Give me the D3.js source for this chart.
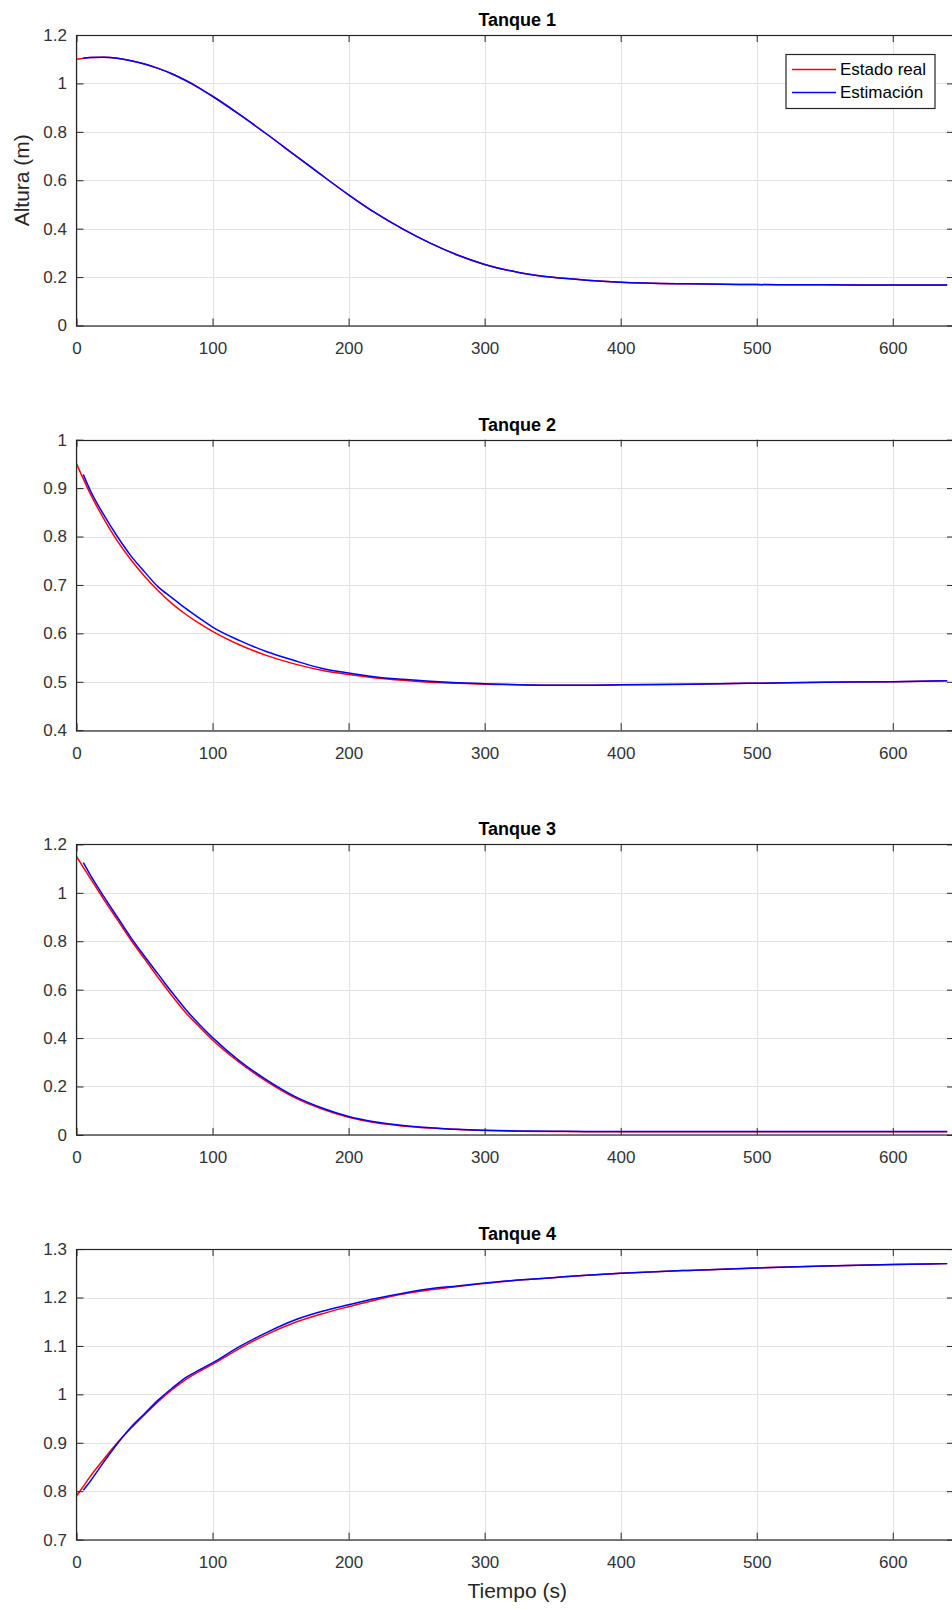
<!DOCTYPE html>
<html>
<head>
<meta charset="utf-8">
<script src="https://cdn.jsdelivr.net/npm/d3@7"></script>
<style>
  body { margin: 0; background: #fff; }
  text { font-family: "Liberation Sans", Arial, Helvetica, sans-serif; }
</style>
</head>
<body>
<div class="chart"></div>
<script>
// tiempo de muestreo (s)
const tiempo = [0, 5, 10, 20, 30, 40, 50, 60, 70, 80, 90, 100, 120, 140, 160, 180, 200,
  220, 240, 260, 280, 300, 325, 350, 375, 400, 450, 500, 550, 600, 640];

// Tanque 1
const t1Real = [1.100, 1.104, 1.107, 1.108, 1.104, 1.094, 1.080, 1.062, 1.040, 1.013, 0.982, 0.947,
  0.871, 0.790, 0.706, 0.622, 0.540, 0.464, 0.398, 0.340, 0.291, 0.252, 0.219, 0.199, 0.187, 0.179,
  0.172, 0.169, 0.168, 0.167, 0.167];
const t1Est = [null, 1.104, 1.107, 1.108, 1.104, 1.094, 1.080, 1.062, 1.040, 1.013, 0.982, 0.947,
  0.871, 0.790, 0.706, 0.622, 0.540, 0.464, 0.398, 0.340, 0.291, 0.252, 0.219, 0.199, 0.187, 0.179,
  0.172, 0.169, 0.168, 0.167, 0.167];

// Tanque 2
const t2Real = [0.950, 0.919, 0.889, 0.837, 0.791, 0.752, 0.718, 0.688, 0.662, 0.640, 0.621, 0.604,
  0.576, 0.554, 0.537, 0.524, 0.515, 0.508, 0.503, 0.499, 0.497, 0.495, 0.494, 0.493, 0.493, 0.494,
  0.495, 0.497, 0.499, 0.500, 0.502];
const t2Est = [null, 0.928, 0.896, 0.845, 0.800, 0.760, 0.727, 0.696, 0.674, 0.652, 0.632, 0.613,
  0.585, 0.562, 0.544, 0.528, 0.518, 0.510, 0.505, 0.501, 0.498, 0.496, 0.494, 0.493, 0.493, 0.494,
  0.495, 0.497, 0.499, 0.500, 0.502];

// Tanque 3
const t3Real = [1.150, 1.105, 1.061, 0.973, 0.889, 0.805, 0.727, 0.650, 0.576, 0.507, 0.448, 0.392,
  0.298, 0.220, 0.155, 0.108, 0.073, 0.050, 0.037, 0.028, 0.022, 0.018, 0.015, 0.014, 0.013, 0.013,
  0.013, 0.013, 0.013, 0.013, 0.013];
const t3Est = [null, 1.125, 1.075, 0.985, 0.900, 0.815, 0.738, 0.664, 0.590, 0.520, 0.458, 0.402,
  0.305, 0.226, 0.160, 0.112, 0.076, 0.053, 0.039, 0.030, 0.023, 0.019, 0.016, 0.015, 0.014, 0.014,
  0.014, 0.014, 0.014, 0.014, 0.014];

// Tanque 4
const t4Real = [0.790, 0.810, 0.830, 0.866, 0.900, 0.930, 0.958, 0.985, 1.009, 1.030, 1.047, 1.062,
  1.095, 1.124, 1.148, 1.166, 1.181, 1.195, 1.207, 1.216, 1.223, 1.229, 1.236, 1.241, 1.246, 1.250,
  1.256, 1.261, 1.265, 1.268, 1.270];
const t4Est = [null, 0.802, 0.820, 0.860, 0.898, 0.932, 0.960, 0.988, 1.012, 1.034, 1.050, 1.065,
  1.099, 1.128, 1.153, 1.171, 1.185, 1.198, 1.209, 1.218, 1.224, 1.230, 1.236, 1.241, 1.246, 1.250,
  1.256, 1.261, 1.265, 1.268, 1.270];

const titulos = ["Tanque 1", "Tanque 2", "Tanque 3", "Tanque 4"];
const xTicks = [0, 100, 200, 300, 400, 500, 600];
const yDominios = [[0, 1.2], [0.4, 1], [0, 1.2], [0.7, 1.3]];
const yTicks = [
  [0, 0.2, 0.4, 0.6, 0.8, 1, 1.2],
  [0.4, 0.5, 0.6, 0.7, 0.8, 0.9, 1],
  [0, 0.2, 0.4, 0.6, 0.8, 1, 1.2],
  [0.7, 0.8, 0.9, 1, 1.1, 1.2, 1.3]
];
const reales = [t1Real, t2Real, t3Real, t4Real];
const estimaciones = [t1Est, t2Est, t3Est, t4Est];
const leyenda = ["Estado real", "Estimación"];
const colores = ["#ff0000", "#0000ff"];

let width = 952,
    height = 1610,
    left = 76.5,
    right = 954,
    top0 = 35,
    step = 404.7,
    h = 290.5;

let svg = d3.select(".chart").append("svg").attr("width", width).attr("height", height);
svg.append("rect").attr("width", width).attr("height", height).attr("fill", "#fff");

let x = d3.scaleLinear().domain([0, 645]).range([left, right]);
let fmt = d3.format("~g");

titulos.forEach((titulo, i) => {
  let top = top0 + i * step;
  let y = d3.scaleLinear().domain(yDominios[i]).range([top + h, top]);
  let g = svg.append("g");

  // rejilla
  g.append("g").selectAll("line").data(xTicks).join("line")
    .attr("x1", d => Math.round(x(d)) + 0.5).attr("x2", d => Math.round(x(d)) + 0.5)
    .attr("y1", top).attr("y2", top + h)
    .attr("stroke", "#e2e2e2");
  g.append("g").selectAll("line").data(yTicks[i]).join("line")
    .attr("y1", d => Math.round(y(d)) + 0.5).attr("y2", d => Math.round(y(d)) + 0.5)
    .attr("x1", left).attr("x2", right)
    .attr("stroke", "#e2e2e2");

  // series
  let data = tiempo.map((t, k) => ({t: t, real: reales[i][k], est: estimaciones[i][k]}));
  let lineReal = d3.line().curve(d3.curveMonotoneX)
    .x(d => x(d.t)).y(d => y(d.real));
  let lineEst = d3.line().curve(d3.curveMonotoneX)
    .defined(d => d.est != null)
    .x(d => x(d.t)).y(d => y(d.est));
  g.append("path").datum(data).attr("d", lineReal)
    .attr("fill", "none").attr("stroke", colores[0]).attr("stroke-width", 1.5);
  g.append("path").datum(data).attr("d", lineEst)
    .attr("fill", "none").attr("stroke", colores[1]).attr("stroke-width", 1.5);

  // ejes
  let axStyle = sel => {
    sel.select(".domain").remove();
    sel.selectAll("line").attr("stroke", "#262626");
    sel.selectAll("text").attr("fill", "#333").style("font-size", "17px")
      .style("font-family", '"Liberation Sans", Arial, sans-serif');
  };
  g.append("g").attr("transform", `translate(0,${top + h})`)
    .call(d3.axisBottom(x).tickValues(xTicks).tickSize(-7).tickPadding(16.4).tickFormat(fmt))
    .call(axStyle);
  g.append("g").attr("transform", `translate(0,${top})`)
    .call(d3.axisTop(x).tickValues(xTicks).tickSize(-7).tickFormat(""))
    .call(axStyle);
  g.append("g").attr("transform", `translate(${left},0)`)
    .call(d3.axisLeft(y).tickValues(yTicks[i]).tickSize(-7).tickPadding(9.5).tickFormat(fmt))
    .call(axStyle);
  g.append("g").attr("transform", `translate(${right},0)`)
    .call(d3.axisRight(y).tickValues(yTicks[i]).tickSize(-7).tickFormat(""))
    .call(axStyle);

  g.append("rect")
    .attr("x", left).attr("y", Math.round(top) + 0.5)
    .attr("width", right - left).attr("height", h)
    .attr("fill", "none").attr("stroke", "#262626").attr("stroke-width", 1.2);

  g.append("text")
    .attr("x", (left + right) / 2 + 2).attr("y", top - 9)
    .attr("text-anchor", "middle")
    .style("font-size", "18px").style("font-weight", "bold")
    .attr("fill", "#000")
    .text(titulo);

  if (i === 0) {
    g.append("text")
      .attr("transform", `translate(28.5,${top + h / 2}) rotate(-90)`)
      .attr("text-anchor", "middle")
      .style("font-size", "21px").attr("fill", "#262626")
      .text("Altura (m)");

    // leyenda
    let lg = g.append("g").attr("transform", "translate(786,54.5)");
    lg.append("rect").attr("width", 149).attr("height", 54)
      .attr("fill", "#fff").attr("stroke", "#262626").attr("stroke-width", 1.2);
    leyenda.forEach((nombre, k) => {
      let yy = 15 + k * 23;
      lg.append("line").attr("x1", 6).attr("x2", 50).attr("y1", yy).attr("y2", yy)
        .attr("stroke", colores[k]).attr("stroke-width", 1.5);
      lg.append("text").attr("x", 54).attr("y", yy).attr("dy", "0.35em")
        .style("font-size", "17px").attr("fill", "#000")
        .text(nombre);
    });
  }
  if (i === titulos.length - 1) {
    g.append("text")
      .attr("x", (left + right) / 2 + 2).attr("y", 1598)
      .attr("text-anchor", "middle")
      .style("font-size", "21px").attr("fill", "#262626")
      .text("Tiempo (s)");
  }
});
</script>
</body>
</html>
